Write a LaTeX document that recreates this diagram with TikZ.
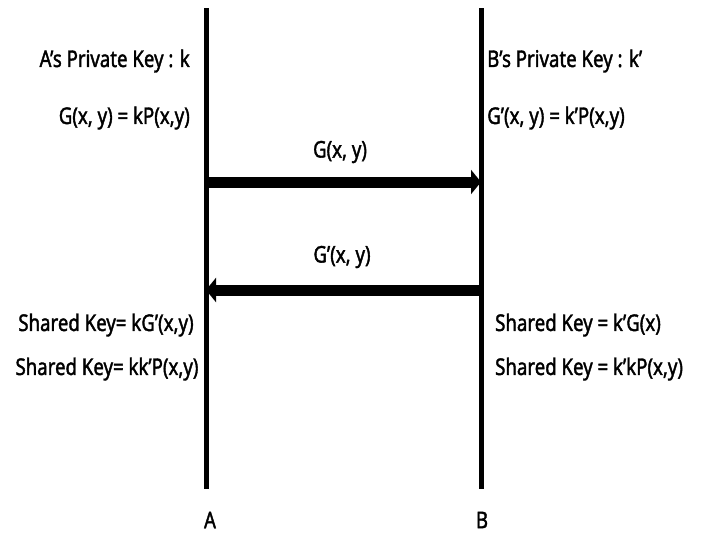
\documentclass[tikz,border=0pt]{standalone}
\usepackage{fontspec}
\setmainfont{Noto Sans}[FakeStretch=0.81, FakeBold=1.6]
\usetikzlibrary{arrows.meta}
\tikzset{
  lbl/.style={inner sep=0pt, font=\fontsize{23}{27}\selectfont},
  msg/.style={line width=11pt, -{Triangle[length=10pt,width=24pt]}},
  party/.style={line width=5pt}
}
\begin{document}
\begin{tikzpicture}[x=1pt,y=-1pt]
\useasboundingbox (0,0) rectangle (704,536);
% the two parties
\coordinate (atop) at (206.5,8);
\coordinate (abot) at (206.5,489);
\coordinate (btop) at (481,8);
\coordinate (bbot) at (481,489);
\draw[party] (atop) -- (abot);
\draw[party] (btop) -- (bbot);
\node[lbl] (nameA) at (210,520) {A};
\node[lbl] (nameB) at (482,520) {B};

% private keys
\node[lbl, anchor=east] (keyA) at (190,61) {A’s Private Key : k};
\node[lbl, anchor=east] (pubA) at (190,118) {G(x, y) = kP(x,y)};
\node[lbl, anchor=west] (keyB) at (487,61) {B’s Private Key : k’};
\node[lbl, anchor=west] (pubB) at (487,118) {G’(x, y) = k’P(x,y)};

% exchanged values
\coordinate (a1) at (209,182);
\coordinate (b1) at (481,182);
\coordinate (b2) at (479,290);
\coordinate (a2) at (206,290);
\draw[msg] (a1) -- (b1);
\draw[msg] (b2) -- (a2);
\node[lbl] (sendA) at (340,152) {G(x, y)};
\node[lbl] (sendB) at (342,257) {G’(x, y)};

% shared keys
\node[lbl] (shareA1) at (106,325) {Shared Key= kG’(x,y)};
\node[lbl] (shareA2) at (107,369) {Shared Key= kk’P(x,y)};
\node[lbl, anchor=west] (shareB1) at (495,325) {Shared Key = k’G(x)};
\node[lbl, anchor=west] (shareB2) at (495,369) {Shared Key = k’kP(x,y)};
\end{tikzpicture}
\end{document}
